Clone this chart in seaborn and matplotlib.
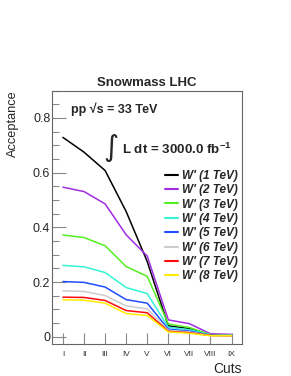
import pandas as pd
import matplotlib
matplotlib.use("Agg")
import matplotlib.pyplot as plt
import seaborn as sns
from matplotlib.ticker import MultipleLocator

cuts = ["I", "II", "III", "IV", "V", "VI", "VII", "VIII", "IX"]
samples = ["W' (1 TeV)", "W' (2 TeV)", "W' (3 TeV)", "W' (4 TeV)",
           "W' (5 TeV)", "W' (6 TeV)", "W' (7 TeV)", "W' (8 TeV)"]
colors = ["#000000", "#a02de0", "#55ee22", "#33f5d5",
          "#1f4dff", "#cccccc", "#ff0a0a", "#ffee00"]

acc_1tev = [0.729, 0.675, 0.608, 0.458, 0.275, 0.040, 0.030, 0.007, 0.006]
acc_2tev = [0.547, 0.531, 0.486, 0.373, 0.295, 0.062, 0.048, 0.011, 0.009]
acc_3tev = [0.372, 0.363, 0.333, 0.257, 0.221, 0.047, 0.034, 0.008, 0.007]
acc_4tev = [0.261, 0.256, 0.235, 0.180, 0.158, 0.035, 0.026, 0.007, 0.006]
acc_5tev = [0.202, 0.199, 0.182, 0.136, 0.123, 0.028, 0.021, 0.006, 0.005]
acc_6tev = [0.168, 0.166, 0.151, 0.113, 0.102, 0.024, 0.018, 0.005, 0.005]
acc_7tev = [0.145, 0.144, 0.133, 0.096, 0.088, 0.020, 0.015, 0.005, 0.004]
acc_8tev = [0.135, 0.134, 0.123, 0.085, 0.078, 0.018, 0.013, 0.004, 0.004]

all_acc = [acc_1tev, acc_2tev, acc_3tev, acc_4tev,
           acc_5tev, acc_6tev, acc_7tev, acc_8tev]

rows = []
for name, vals in zip(samples, all_acc):
    for i, v in enumerate(vals):
        rows.append({"cut": i + 1, "acceptance": v, "sample": name})
df = pd.DataFrame(rows)

sns.set_style("white")
plt.rcParams['font.family'] = ['Liberation Sans', 'DejaVu Sans']
plt.rcParams['mathtext.fontset'] = 'custom'
plt.rcParams['mathtext.rm'] = 'Liberation Sans'
plt.rcParams['mathtext.bf'] = 'Liberation Sans:bold'

fig = plt.figure(figsize=(2.91, 3.76), dpi=100)
ax = fig.add_axes([0.18, 0.086, 0.652, 0.673])

sns.lineplot(data=df, x="cut", y="acceptance", hue="sample",
             hue_order=samples, palette=colors, linewidth=1.1, ax=ax,
             legend=False)

ax.set_xlim(0.5, 9.5)
ax.set_ylim(-0.025, 0.9)
ax.set_xticks(range(1, 10))
ax.set_xticklabels(cuts, fontsize=6, color="#333333")
ax.yaxis.set_minor_locator(MultipleLocator(0.05))
ax.set_yticks([0, 0.2, 0.4, 0.6, 0.8])
ax.set_yticklabels(["0", "0.2", "0.4", "0.6", "0.8"], fontsize=9)
ax.tick_params(axis="y", which="major", direction="in", length=10,
               width=0.8, color="#888888", left=True, pad=1.5)
ax.tick_params(axis="y", which="minor", direction="in", length=5,
               width=0.8, color="#888888", left=True)
ax.tick_params(axis="x", which="major", direction="in", length=8,
               width=0.8, color="#888888", bottom=True, pad=5)
for s in ax.spines.values():
    s.set_color("#666666")
    s.set_linewidth(0.8)

ax.set_xlabel("Cuts", fontsize=10, loc="right", labelpad=3)
ax.set_ylabel("Acceptance", fontsize=9.2, loc="top", labelpad=10)
ax.set_title("Snowmass LHC", fontsize=9.5, fontweight="bold", pad=3)

ax.text(0.1, 0.928, "pp \u221as = 33 TeV", transform=ax.transAxes,
        fontsize=9, fontweight="bold", va="center", ha="left")
ax.text(0.35, 0.775, "\u222b", transform=ax.transAxes, fontsize=21,
        va="center", ha="right", family="DejaVu Sans")
ax.text(0.366, 0.768, r"L dt = 3000.0 fb$^{\mathbf{-1}}$", transform=ax.transAxes,
        fontsize=9.6, fontweight="bold", va="center", ha="left")

handles = [plt.Line2D([], [], color=c, linewidth=1.5) for c in colors]
ax.legend(handles, samples, loc="upper left", bbox_to_anchor=(0.56, 0.71),
          frameon=False, handlelength=1.1, handletextpad=0.35,
          labelspacing=0.2, borderpad=0,
          prop={"weight": "bold", "style": "italic", "size": 8.5})

fig.savefig("out.png", dpi=100)
